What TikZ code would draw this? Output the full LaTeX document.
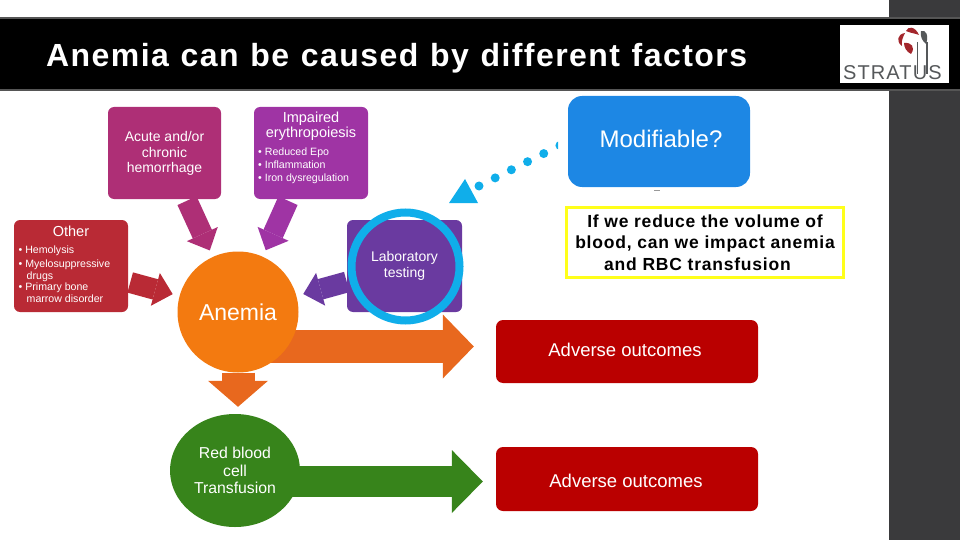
\documentclass[tikz,border=0pt]{standalone}
\usepackage{fontspec}
\setmainfont{Liberation Sans}
\usetikzlibrary{arrows.meta,calc,positioning,shapes.geometric,backgrounds}
\definecolor{PanelGrey}{HTML}{3A3A3C}
\definecolor{BarEdge}{HTML}{555555}
\definecolor{CauseAcute}{HTML}{AE2F76}
\definecolor{CauseEpo}{HTML}{9F34A4}
\definecolor{CauseOther}{HTML}{B92A35}
\definecolor{CauseLab}{HTML}{6A3AA0}
\definecolor{AnemiaOrange}{HTML}{F37A10}
\definecolor{ArrowOrange}{HTML}{E8681E}
\definecolor{TransGreen}{HTML}{37841B}
\definecolor{OutcomeRed}{HTML}{BA0000}
\definecolor{ModBlue}{HTML}{1D87E4}
\definecolor{RingBlue}{HTML}{10AEEA}
\definecolor{NoteYellow}{HTML}{FFFF1A}
\definecolor{LogoRed}{HTML}{A3262C}
\definecolor{LogoGrey}{HTML}{55585A}
\tikzset{
  causebox/.style={rectangle, rounded corners=6pt, minimum width=114pt, minimum height=92pt,
             inner sep=0pt},
  causelist/.style={text=white, align=left, inner sep=0pt, anchor=west, font=\fontsize{10.6}{13}\selectfont},
  causehead/.style={text=white, align=center, inner sep=0pt, font=\fontsize{14.5}{15}\selectfont},
  causetext/.style={text=white, align=center, inner sep=0pt, font=\fontsize{14}{15.5}\selectfont},
  outcomebox/.style={rectangle, rounded corners=7pt, fill=OutcomeRed, minimum width=262pt, inner sep=0pt},
  outcometext/.style={text=white, inner sep=0pt, font=\fontsize{18.5}{20}\selectfont},
  sidearrow/.style={line width=21pt, shorten >=7pt, -{Triangle[length=18pt,width=34pt,line width=0pt]}},
}
\begin{document}
\begin{tikzpicture}[x=1pt,y=-1pt]
\useasboundingbox (0,0) rectangle (960,540);
\node[rectangle, fill=PanelGrey, minimum width=71pt, minimum height=540pt, inner sep=0pt] (panel) at (924.5,270) {};
\node[rectangle, fill=black, draw=BarEdge, line width=2pt, minimum width=962pt, minimum height=72pt, inner sep=0pt] (titlebar) at (480,54) {};
\node[text=white, anchor=base west, inner sep=0pt, font=\fontsize{32}{32}\selectfont\bfseries\addfontfeature{LetterSpace=4.5}] (title) at (46,67) {\spaceskip=11.7pt Anemia can be caused by different factors};
\node[rectangle, fill=white, minimum width=109pt, minimum height=58pt, inner sep=0pt] (logo) at (894.5,54) {};
\node[text=LogoGrey, anchor=base west, inner sep=0pt, font=\fontsize{20}{20}\selectfont\addfontfeature{LetterSpace=5.5}] (logotext) at (843,80) {STRATUS};
\draw[LogoGrey, line width=1.5pt] (917.5,74) -- (917.5,42);
\draw[LogoGrey, line width=1.5pt] (927,74) -- (927,42);
\fill[LogoGrey] (921,31) .. controls (926,29) and (929,36) .. (926,44) .. controls (922,41) and (920,36) .. (921,31);
\fill[LogoRed] (906,31) .. controls (908,26) and (915,26) .. (919,35) .. controls (914,33) and (910,33) .. (906,31);
\fill[LogoRed] (905,33) .. controls (897,34) and (896,42) .. (902,46) .. controls (901,41) and (903,37) .. (905,33);
\fill[LogoRed] (904,43) .. controls (911,42) and (916,47) .. (911,54) .. controls (907,52) and (904,48) .. (904,43);

\node[causebox, fill=CauseAcute, minimum width=113pt] (acute) at (164.5,153) {};
\node[causetext] (acutetext) at (164.5,153.5) {Acute and/or\\chronic\\hemorrhage};
\node[causebox, fill=CauseEpo] (epo) at (311,153) {};
\node[causehead] (epohead) at (311,126.5) {Impaired\\erythropoiesis};
\node[causelist] (epolist) at (258,165.5) {\textbullet\ Reduced Epo\\\textbullet\ Inflammation\\\textbullet\ Iron dysregulation};
\node[causebox, fill=CauseOther] (other) at (71,266) {};
\node[causehead] (otherhead) at (71,231) {Other};
\node[causelist, font=\fontsize{10.6}{11.8}\selectfont] (otherlist) at (18.5,274.5) {\textbullet\ Hemolysis\\[1.5pt]\textbullet\ Myelosuppressive\\\hspace{8pt}drugs\\\textbullet\ Primary bone\\\hspace{8pt}marrow disorder};
\node[causebox, fill=CauseLab, minimum width=115pt] (lab) at (404.5,266) {};
\node[causetext, font=\fontsize{14}{16}\selectfont] (labtext) at (404.5,266) {Laboratory\\testing};
\node[circle, draw=RingBlue, line width=8pt, minimum size=108pt, inner sep=0pt] (ring) at (405.5,266.5) {};
\node[circle, fill=AnemiaOrange, minimum size=121pt, inner sep=0pt, text=white, font=\fontsize{23}{25}\selectfont] (anemia) at (238,312) {Anemia};
\node[ellipse, fill=TransGreen, minimum width=130pt, minimum height=113pt, inner sep=0pt, text=white, align=center, font=\fontsize{15.8}{17.7}\selectfont] (rbc) at (235,470.5) {Red blood\\cell\\Transfusion};
\node[outcomebox, minimum height=63pt] (outa) at (627,351.5) {};
\node[outcometext] (outatext) at (625,350) {Adverse outcomes};
\node[outcomebox, minimum height=64pt] (outb) at (627,479) {};
\node[outcometext] (outbtext) at (626,481) {Adverse outcomes};
\node[rectangle, rounded corners=14pt, fill=ModBlue, minimum width=182pt, minimum height=91pt, inner sep=0pt] (modif) at (659,141.5) {};
\node[text=white, inner sep=0pt, font=\fontsize{24}{26}\selectfont] (modiftext) at (661,139) {Modifiable?};
\node[rectangle, draw=NoteYellow, line width=3.5pt, fill=white, minimum width=277pt, minimum height=70pt, inner sep=0pt, align=center, font=\fontsize{17.5}{21.5}\selectfont\bfseries\addfontfeature{LetterSpace=4.5}] (note) at (705,242.5) {If we reduce the volume of\\blood, can we impact anemia\\and RBC transfusion\hspace{15pt}\mbox{}};

\begin{scope}[on background layer]
\draw[sidearrow, CauseAcute] ($(acute.south)+(22.5,1.5)$) -- (anemia);
\draw[sidearrow, CauseEpo] ($(epo.south)+(-23,1.5)$) -- (anemia);
\draw[sidearrow, CauseOther] ($(other.east)+(2,16.5)$) -- (anemia);
\draw[sidearrow, CauseLab] ($(lab.west)+(0,16)$) -- (anemia);
\draw[ArrowOrange, line width=33pt, -{Triangle[length=31pt,width=64pt,line width=0pt]}] ($(anemia)+(0,34.5)$) -- ($(outa.west)+(-22,-5)$);
\draw[ArrowOrange, line width=33pt, -{Triangle[length=26pt,width=60pt,line width=0pt]}] (anemia) -- ($(rbc.north)+(3,-7)$);
\draw[TransGreen, line width=31pt, -{Triangle[length=31pt,width=63pt,line width=0pt]}] ($(rbc)+(0,11)$) -- ($(outb.west)+(-13,2.5)$);
\end{scope}

\coordinate (dotend) at (479,186);
\begin{scope}
\clip (470,130) rectangle (558,200);
\draw[RingBlue, line width=9pt, line cap=round, dash pattern=on 0pt off 18.1pt] (dotend) -- (modif.west);
\end{scope}
\fill[RingBlue] (449,203) -- (478,203) -- (465,179) -- cycle;
\draw[BarEdge!60, line width=0.8pt] (654,190) -- (660,190);
\end{tikzpicture}
\end{document}
